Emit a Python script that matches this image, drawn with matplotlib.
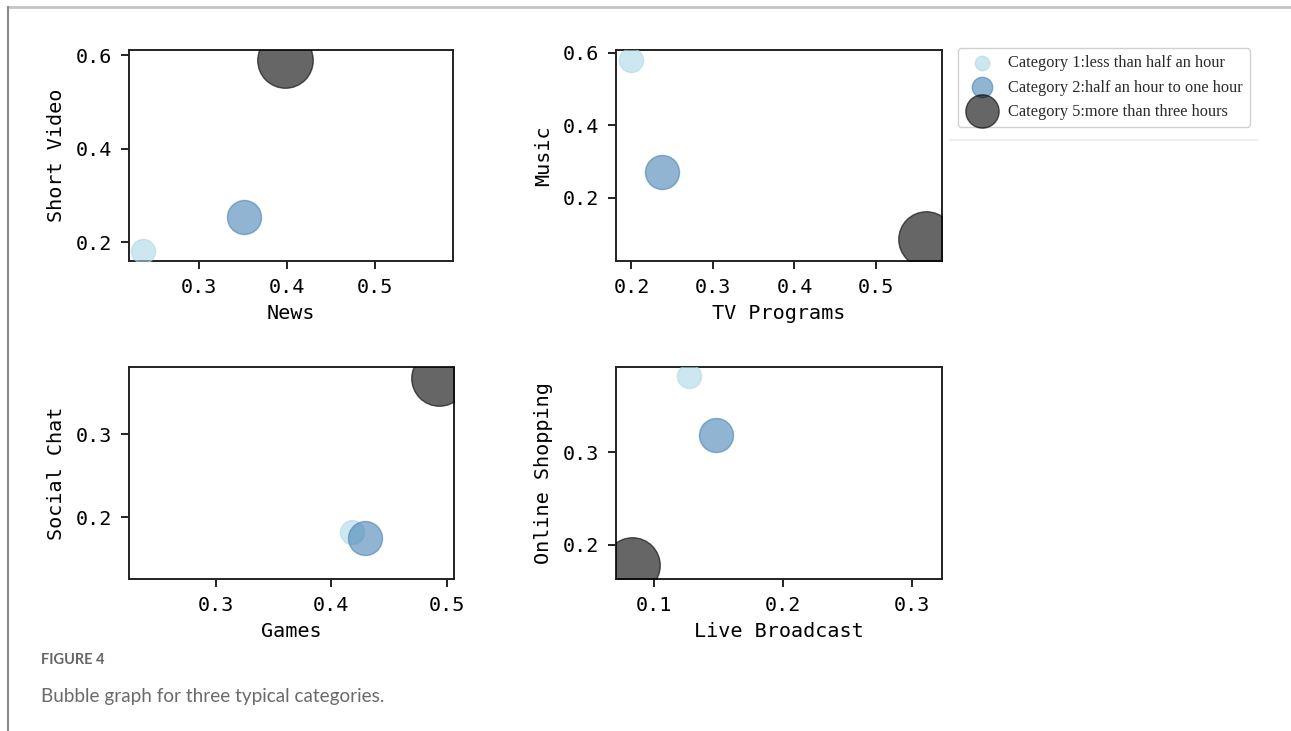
import matplotlib
matplotlib.use("Agg")
import matplotlib.pyplot as plt
from matplotlib.lines import Line2D

# category labels and styling per category
categories = ['Category 1:less than half an hour',
              'Category 2:half an hour to one hour',
              'Category 5:more than three hours']
colors = ['lightblue', 'steelblue', 'black']
sizes = [300, 600, 1600]

# one panel per pair of media types: (x label, y label)
panels = [('News', 'Short Video'),
          ('TV Programs', 'Music'),
          ('Games', 'Social Chat'),
          ('Live Broadcast', 'Online Shopping')]

# x / y values per panel, order = categories
news = [0.236, 0.351, 0.398]
short_video = [0.181, 0.255, 0.589]
tv_programs = [0.200, 0.237, 0.561]
music = [0.581, 0.272, 0.088]
games = [0.418, 0.429, 0.493]
social_chat = [0.182, 0.175, 0.368]
live_broadcast = [0.127, 0.148, 0.083]
online_shopping = [0.382, 0.319, 0.178]

xs = [news, tv_programs, games, live_broadcast]
ys = [short_video, music, social_chat, online_shopping]

xlims = [(0.2205, 0.589), (0.181, 0.581), (0.225, 0.506), (0.0705, 0.323)]
ylims = [(0.160, 0.611), (0.026, 0.608), (0.126, 0.381), (0.163, 0.392)]
xticks = [[0.3, 0.4, 0.5], [0.2, 0.3, 0.4, 0.5], [0.3, 0.4, 0.5], [0.1, 0.2, 0.3]]
yticks = [[0.2, 0.4, 0.6], [0.2, 0.4, 0.6], [0.2, 0.3], [0.2, 0.3]]

W, H = 1291, 731
fig = plt.figure(figsize=(W / 100, H / 100), dpi=100)

# axes boxes in pixels: left, top, right, bottom
boxes = [(129, 50, 453, 261), (616, 50, 942, 261),
         (129, 367, 454, 579), (616, 367, 942, 579)]

mono = 'DejaVu Sans Mono'
for i, (b, (xl, yl)) in enumerate(zip(boxes, panels)):
    l, t, r, btm = b
    ax = fig.add_axes([l / W, 1 - btm / H, (r - l) / W, (btm - t) / H])
    for j in range(3):
        ax.scatter(xs[i][j], ys[i][j], s=sizes[j], c=colors[j], alpha=0.6,
                   label=categories[j], zorder=3)
    ax.set_xlim(xlims[i])
    ax.set_ylim(ylims[i])
    ax.set_xticks(xticks[i])
    ax.set_yticks(yticks[i])
    ax.set_xticklabels([f'{v:.1f}' for v in xticks[i]], family=mono, fontsize=14.5)
    ax.set_yticklabels([f'{v:.1f}' for v in yticks[i]], family=mono, fontsize=14.5)
    ax.set_xlabel(xl, family=mono, fontsize=14.5, labelpad=5)
    ax.set_ylabel(yl, family=mono, fontsize=14.5, labelpad=7)
    ax.tick_params(length=6, width=1.4, pad=6, color='#222222')
    for sp in ax.spines.values():
        sp.set_linewidth(1.4)
        sp.set_color('#222222')
    if i == 0:
        handles, labels = ax.get_legend_handles_labels()

leg = fig.legend(handles, labels, loc='upper left',
                 bbox_to_anchor=(958 / W, 1 - 48 / H), borderaxespad=0,
                 markerscale=0.6, prop={'family': 'Liberation Serif', 'size': 11.8},
                 labelspacing=0.5, handletextpad=0.6, borderpad=0.45,
                 framealpha=1, edgecolor='#d0d0d0')
for txt in leg.get_texts():
    txt.set_color('#2a2a2a')

# faint rule under the legend
fig.add_artist(Line2D([950 / W, 1257 / W], [1 - 140 / H, 1 - 140 / H],
                      color='#f0f0f0', lw=1.5))

# page frame lines
fig.add_artist(Line2D([7.5 / W, 1], [1 - 7 / H, 1 - 7 / H], color='#c4c4c4', lw=2))
fig.add_artist(Line2D([7.5 / W, 7.5 / W], [0, 1 - 7 / H], color='#8a8a8a', lw=1.5))

# caption
fig.text(41 / W, 1 - 664 / H, 'FIGURE 4', family='Lato', fontweight='bold',
         fontsize=10.5, color='#666666', va='baseline')
fig.text(41 / W, 1 - 702 / H, 'Bubble graph for three typical categories.',
         family='Lato', fontsize=13.6, color='#6a6a6a', va='baseline')

fig.savefig('out.png', dpi=100)
